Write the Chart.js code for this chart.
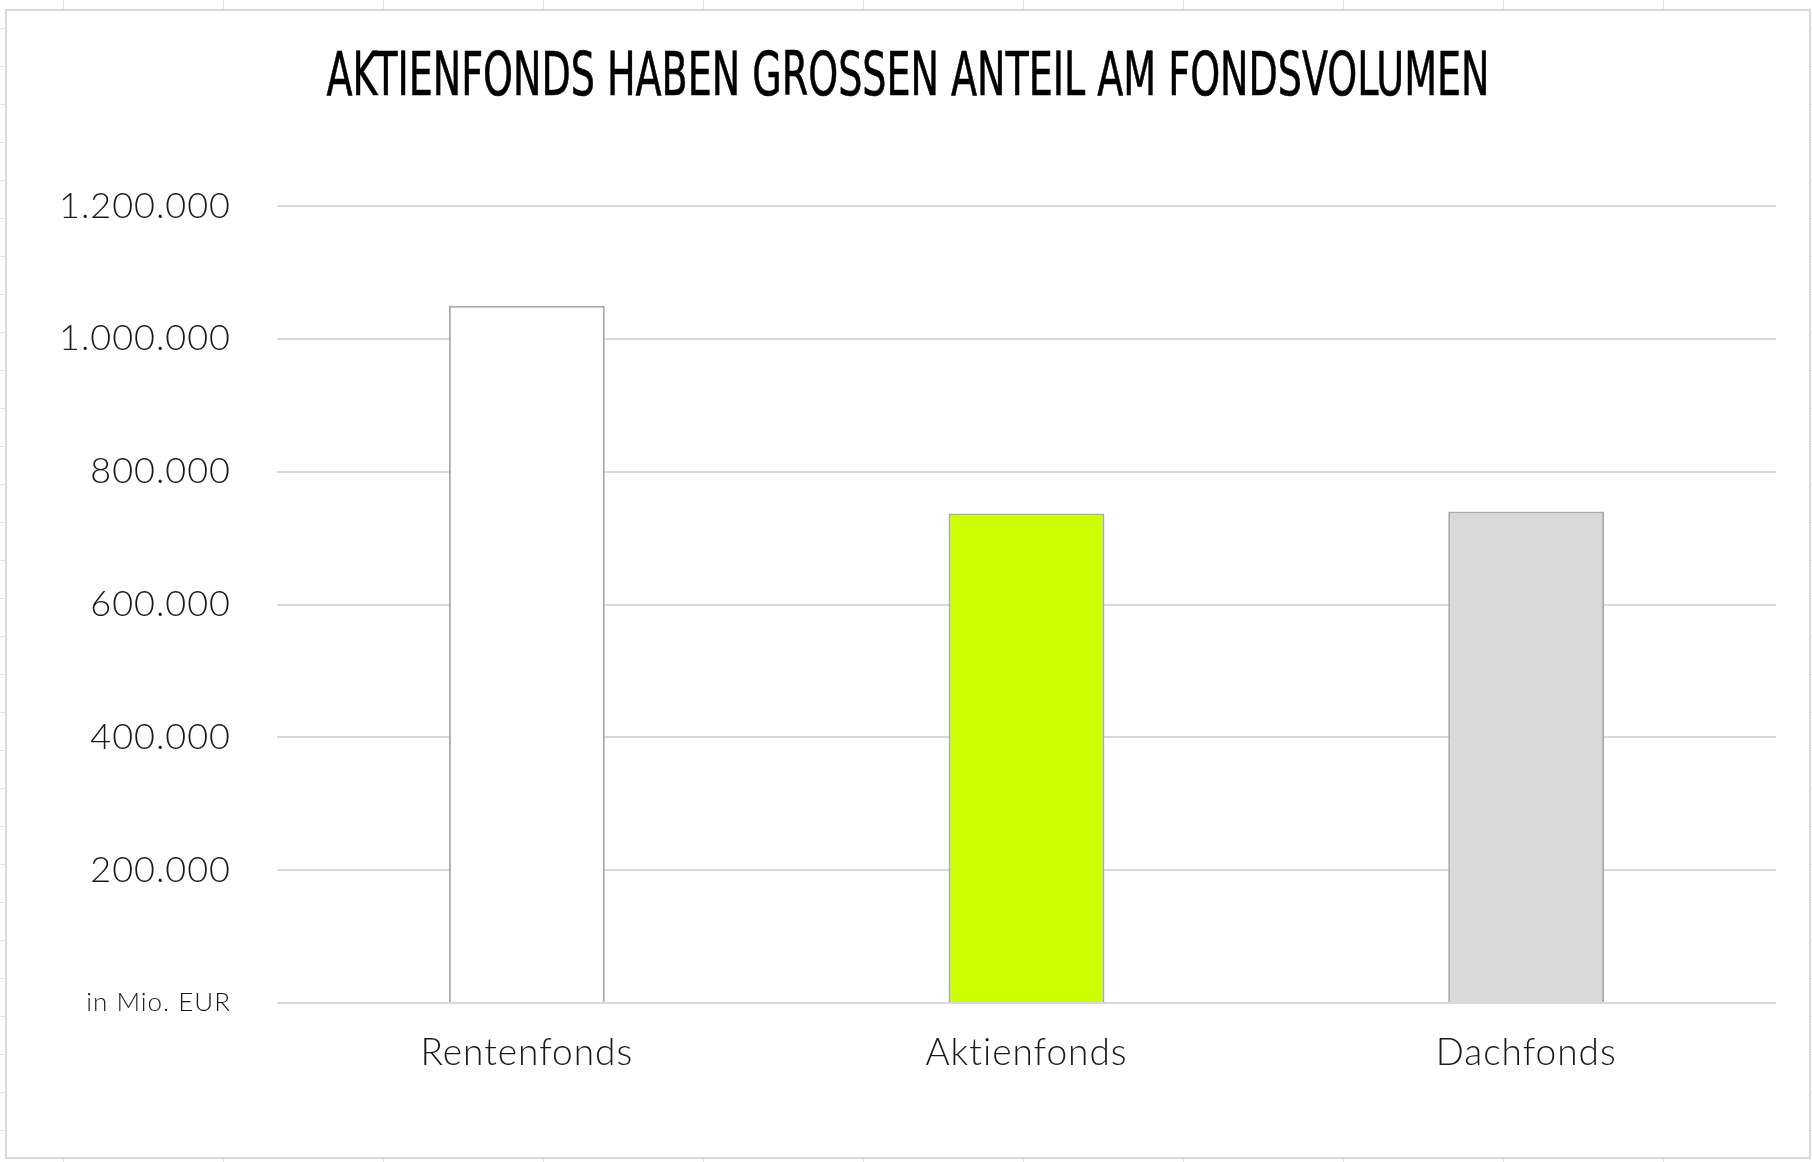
<!DOCTYPE html>
<html>
<head>
<meta charset="utf-8">
<script src="https://cdn.jsdelivr.net/npm/chart.js@4.4.0/dist/chart.umd.min.js"></script>
<style>
  html, body { margin: 0; padding: 0; }
  body {
    width: 1812px; height: 1162px; overflow: hidden;
    background-color: #fff;
    background-image:
      linear-gradient(to right, #e3e3e3 1px, transparent 1px),
      linear-gradient(to bottom, #e3e3e3 1px, transparent 1px);
    background-size: 160px 100%, 100% 38px;
    background-position: 63px 0, 0 28px;
  }
  #box {
    position: absolute; left: 5px; top: 9px;
    width: 1802px; height: 1146px;
    border: 2px solid #d9d9d9; background: #fff;
  }
</style>
</head>
<body>
<div id="box"><canvas id="grafico" width="1802" height="1146"></canvas></div>
<script>
// ------------------ DADOS ------------------
const titulo = "AKTIENFONDS HABEN GROSSEN ANTEIL AM FONDSVOLUMEN";
const categorias = ["Rentenfonds", "Aktienfonds", "Dachfonds"];
const volumes = [1050000, 737000, 740000];
const rotulosY = ["in Mio. EUR", "200.000", "400.000", "600.000", "800.000", "1.000.000", "1.200.000"];
const coresBarras = ["#ffffff", "#ccff00", "#d9d9d9"];

const fonteTexto = 'Lato, "Open Sans", sans-serif';

// espacamento de letras (a fonte original e mais larga)
const espacoPlugin = {
    id: "espaco",
    beforeDraw(chart) { chart.ctx.letterSpacing = "1px"; },
    afterDatasetsDraw(chart) { chart.ctx.letterSpacing = "4px"; }
};

// titulo desenhado a mao (fonte condensada)
const tituloPlugin = {
    id: "titulo",
    afterDraw(chart) {
        const ctx = chart.ctx;
        ctx.save();
        ctx.letterSpacing = "0px";
        ctx.font = '60px "Liberation Sans Narrow", "DejaVu Sans Condensed", sans-serif';
        const w = ctx.measureText(titulo).width;
        ctx.translate(901, 84);
        ctx.scale(1163 / w, 1);
        ctx.textAlign = "center";
        ctx.textBaseline = "alphabetic";
        ctx.fillStyle = "#000";
        ctx.strokeStyle = "#000";
        ctx.lineWidth = 0.6;
        ctx.fillText(titulo, 0, 0);
        ctx.strokeText(titulo, 0, 0);
        ctx.restore();
    }
};

document.addEventListener("DOMContentLoaded", () => {
    const ctx = document.getElementById("grafico").getContext("2d");

    new Chart(ctx, {
        type: "bar",
        data: {
            labels: categorias,
            datasets: [{
                data: volumes,
                backgroundColor: coresBarras,
                borderColor: "#aaaaaa",
                borderWidth: 2,
                categoryPercentage: 1,
                barPercentage: 0.312
            }]
        },
        options: {
            responsive: false,
            animation: false,
            layout: { padding: { top: 195, right: 33, left: 0, bottom: 0 } },
            plugins: {
                legend: { display: false },
                tooltip: { enabled: false }
            },
            scales: {
                x: {
                    z: 1,
                    grid: { display: false },
                    border: { display: false },
                    ticks: {
                        padding: 20,
                        color: "#1a1a1a",
                        font: { family: fonteTexto, size: 37, weight: 300 }
                    },
                    afterFit: s => { s.height = 154; }
                },
                y: {
                    min: 0,
                    max: 1200000,
                    grid: { color: "#d9d9d9", lineWidth: 2, drawTicks: false },
                    border: { display: false },
                    ticks: {
                        stepSize: 200000,
                        padding: 46,
                        color: "#1a1a1a",
                        font: c => (c.tick && c.tick.value === 0)
                            ? { family: fonteTexto, size: 26, weight: 300 }
                            : { family: fonteTexto, size: 36, weight: 300 },
                        callback: (v, i) => rotulosY[i]
                    },
                    afterFit: s => { s.width = 270; }
                }
            }
        },
        plugins: [espacoPlugin, tituloPlugin]
    });
});
</script>
</body>
</html>
